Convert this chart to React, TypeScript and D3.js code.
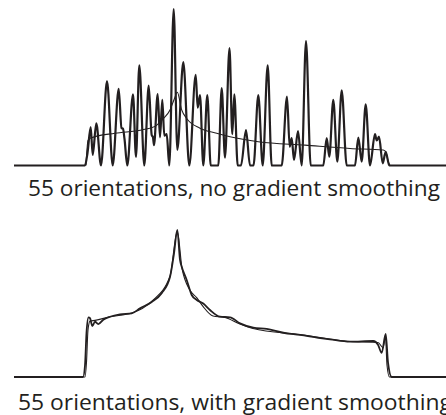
import React, { useEffect, useRef } from "react";
import * as d3 from "d3";

// channel (0..432) and intensity (0..100)
const rawChannels = [0, 71, 73.5, 76.7, 78.7, 82.3, 87, 93, 98.7, 104.7, 107.5, 109, 110.5, 113.3, 119, 122, 125.3, 130.3, 134.7, 137.7, 139, 140, 143.7, 146, 148.3, 150.3, 152.7, 155.3, 159.7, 163.3, 169.3, 175.3, 181.7, 183.7, 186, 189.3, 193.3, 196.7, 204.3, 207.7, 211, 215.5, 218.3, 220.3, 223.7, 227, 232, 236, 239.5, 244.3, 248.7, 253.7, 257.7, 267.7, 273, 275.7, 277.7, 280, 284, 287.7, 292, 296.7, 309.3, 312.7, 315.3, 319.3, 323.3, 327.7, 332.7, 341, 344.3, 347.7, 351.7, 356, 361, 362.7, 365, 368.7, 371.7, 375.3, 432];
const rawValues = [0, 0, 8, 24.6, 6.7, 27, 0, 54, 0, 49, 24, 23.5, 17, 0, 45.5, 5.5, 64, 0, 51, 19.5, 18, 13, 45.6, 18, 42, 19, 20, 0, 100, 10, 66, 0, 58, 37, 45, 0, 45, 0, 0, 49.5, 5, 75, 20, 45.5, 0, 0, 22.7, 0, 0, 45, 0, 64, 0, 0, 44, 12, 17.5, 3.5, 22, 0, 79.5, 0, 0, 17.5, 5.6, 42, 2.4, 48, 0, 0, 17.8, 2.4, 39, 0, 20, 16, 18.4, 1.4, 8.8, 0, 0];

const idealChannels = [72, 74, 76, 101, 127.7, 141, 149.3, 156, 160, 163.3, 167.7, 172.7, 186, 202.7, 216, 244.3, 291, 336, 369.3, 372, 374, 376];
const idealValues = [0, 16, 17.4, 20.6, 22.7, 25, 30, 35.5, 42, 46.8, 35.5, 30, 23.8, 20.6, 18.4, 15.2, 13, 10.9, 9.9, 8.5, 3, 0];

const smoothChannels = [0, 69, 71, 72.5, 74.5, 76, 78.3, 81, 84.3, 89.3, 96, 106, 117.7, 126, 137.7, 147.7, 156, 160, 163.3, 166, 167.7, 172.7, 177.7, 182.7, 189.3, 196, 206, 216, 226, 239.3, 252.7, 269.3, 286, 304.3, 316, 336, 359.3, 364, 367.7, 371.7, 374, 377.7, 432];
const smoothValues = [0, 0, 8, 30, 40.6, 40, 34.7, 37.6, 36, 39, 41, 42.6, 43.3, 46.7, 51, 57, 68, 84, 100, 79.6, 75, 66, 55.8, 52.4, 50, 45.6, 41, 40.6, 36.5, 33.6, 32.7, 30.1, 28.6, 26.7, 25.6, 24, 24.5, 22, 16.5, 29.3, 10, 0, 0];

const refChannels = [0, 71, 72.5, 74, 76, 81, 96, 117.7, 137.7, 156, 163.3, 168, 176, 182.7, 189, 199, 211, 226, 239, 286, 336, 364, 369, 371.5, 373, 375.5, 432];
const refValues = [0, 0, 10, 32, 38, 38.5, 41, 43.5, 51.5, 68.5, 99, 74, 59, 54, 48, 41.5, 40.5, 36, 33, 28.8, 24.2, 23.5, 20, 27, 8, 0, 0];

const captions = ["55 orientations, no gradient smoothing", "55 orientations, with gradient smoothing"];

const zip = (xs: number[], ys: number[]) => xs.map((x, i) => ({ x, y: ys[i] }));

const Spectra = () => {
  const chartRef = useRef<HTMLDivElement>(null);

  useEffect(() => {
    const ink = "#231f20";
    const svg = d3
      .select(chartRef.current)
      .append("svg")
      .attr("width", 446)
      .attr("height", 415)
      .style("display", "block")
      .style("background", "#fff");

    const xScale = d3.scaleLinear().domain([0, 432]).range([14, 446]);
    const yTop = d3.scaleLinear().domain([0, 100]).range([165.5, 9]);
    const yBottom = d3.scaleLinear().domain([0, 100]).range([377, 230]);

    const lineFor = (yScale: d3.ScaleLinear<number, number>) =>
      d3
        .line<{ x: number; y: number }>()
        .x((d) => xScale(d.x))
        .y((d) => yScale(d.y))
        .curve(d3.curveMonotoneX);

    // top panel
    svg.append("path")
      .attr("d", lineFor(yTop)(zip(idealChannels, idealValues)))
      .attr("fill", "none").attr("stroke", ink).attr("stroke-width", 1.1);
    svg.append("path")
      .attr("d", lineFor(yTop)(zip(rawChannels, rawValues)))
      .attr("fill", "none").attr("stroke", ink).attr("stroke-width", 2.2)
      .attr("stroke-linejoin", "round");

    // bottom panel
    svg.append("path")
      .attr("d", lineFor(yBottom)(zip(refChannels, refValues)))
      .attr("fill", "none").attr("stroke", ink).attr("stroke-width", 1.1);
    svg.append("path")
      .attr("d", lineFor(yBottom)(zip(smoothChannels, smoothValues)))
      .attr("fill", "none").attr("stroke", ink).attr("stroke-width", 1.8);

    // captions
    const capPos = [
      { x: 28, y: 196, len: 412 },
      { x: 18, y: 410, len: 434 },
    ];
    svg.selectAll(".caption")
      .data(captions)
      .enter()
      .append("text")
      .attr("class", "caption")
      .attr("x", (d, i) => capPos[i].x)
      .attr("y", (d, i) => capPos[i].y)
      .attr("textLength", (d, i) => capPos[i].len)
      .attr("lengthAdjust", "spacingAndGlyphs")
      .attr("font-family", "'Open Sans', sans-serif")
      .attr("font-size", 22.5)
      .attr("fill", ink)
      .text((d) => d);

    return () => {
      d3.select(chartRef.current).select("svg").remove();
    };
  }, []);

  return <div ref={chartRef}></div>;
};

export default function App() {
  return (
    <>
      <style>{`body{margin:0;overflow:hidden}`}</style>
      <Spectra />
    </>
  );
}
